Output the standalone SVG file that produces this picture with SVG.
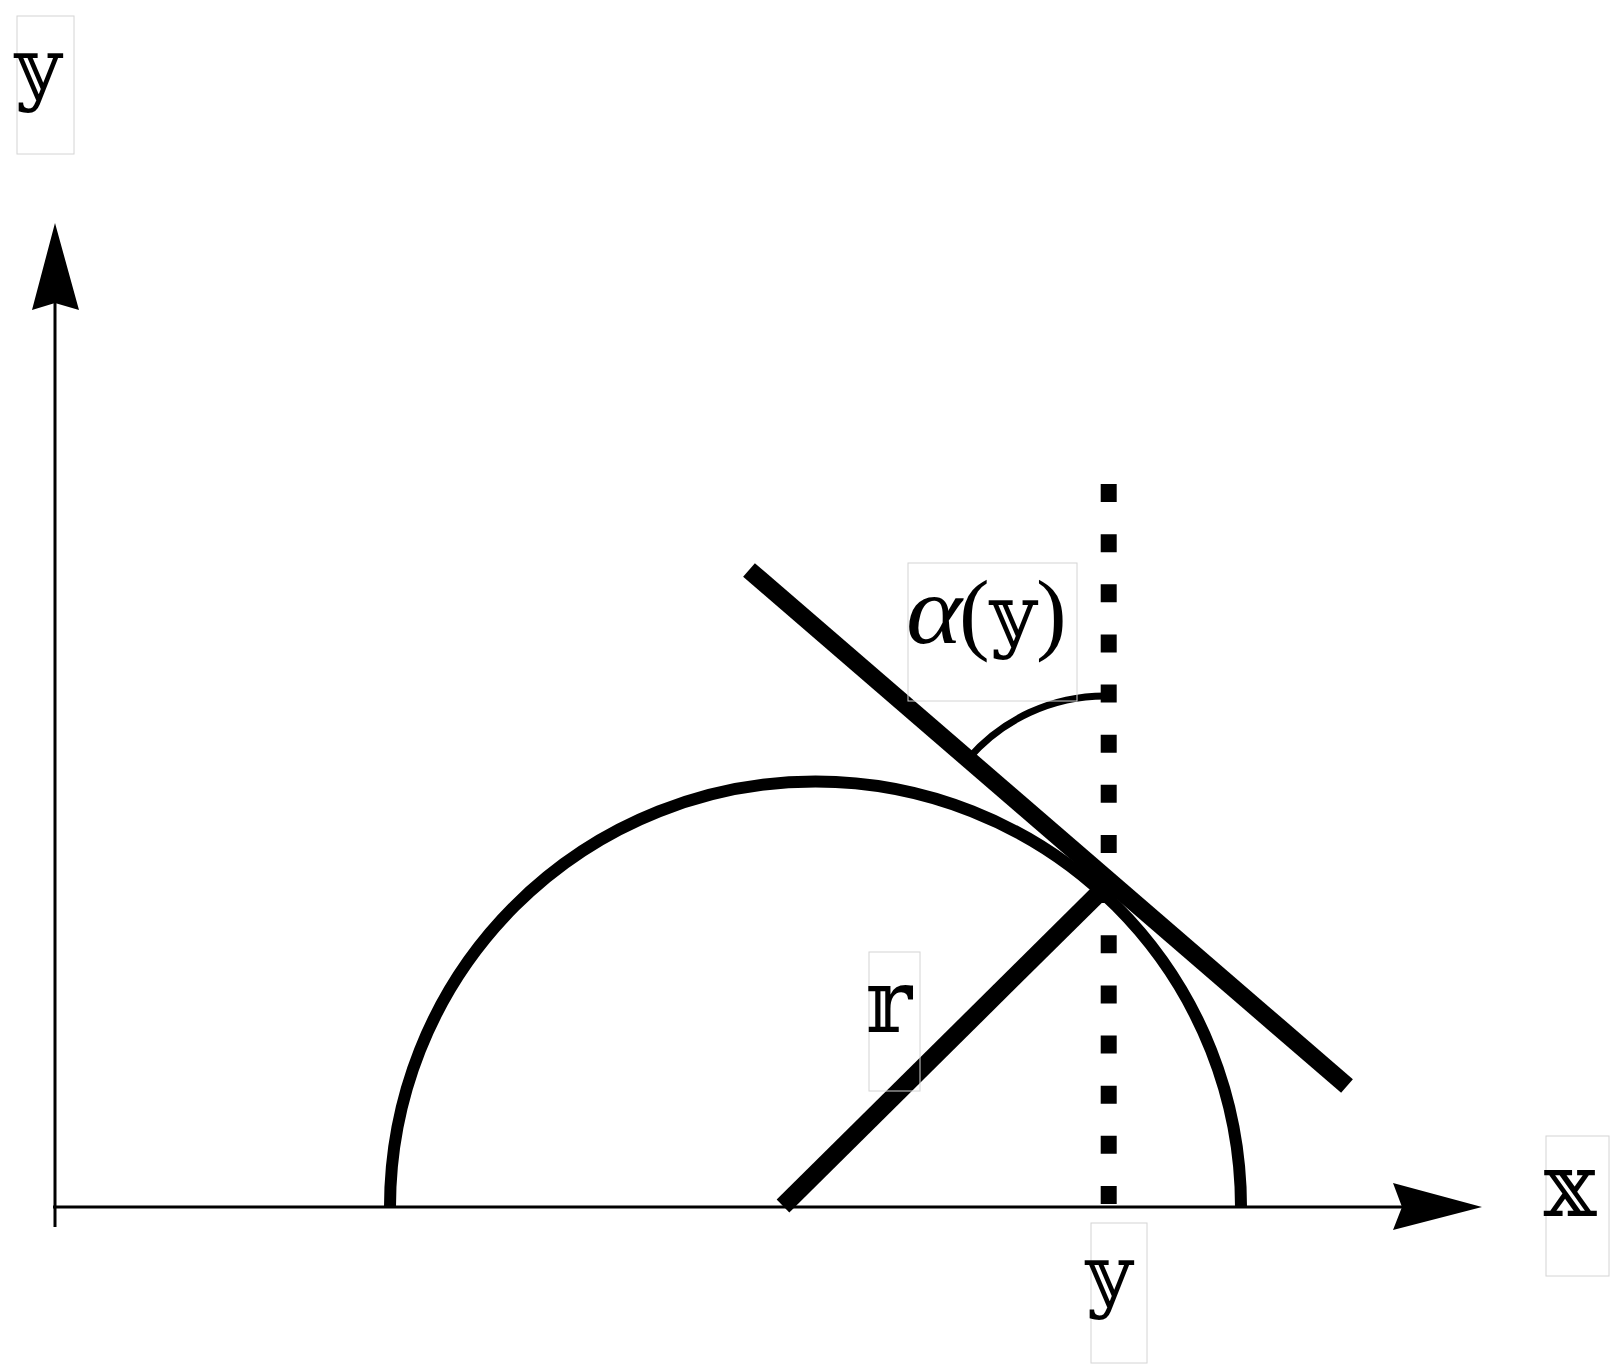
<svg xmlns="http://www.w3.org/2000/svg" width="1621" height="1371" viewBox="0 0 1621 1371">
  <style>
    .box { fill: none; stroke: #d4d4d4; stroke-width: 1; }
    .lbl { font-family: "DejaVu Serif", "DejaVu Sans", serif; font-size: 88px; fill: #000; }
    .ly { font-size: 80px; }
    .greek { font-family: "Liberation Serif", serif; font-style: italic; font-size: 98px; fill: #000; }
    .paren { font-family: "Liberation Serif", serif; font-size: 92px; fill: #000; }
    .axis { stroke: #000; stroke-width: 3; fill: none; }
    .thick { stroke: #000; stroke-width: 18; fill: none; stroke-linecap: butt; }
  </style>
  <rect width="1621" height="1371" fill="#fff"/>
  <g id="connectors">
    <line class="axis" x1="55" y1="1227" x2="55" y2="300"/>
    <polygon points="55,223 79,310 55,303 32,310" fill="#000"/>
    <line class="axis" x1="53" y1="1207" x2="1405" y2="1207"/>
    <polygon points="1482,1207 1393,1230 1402,1207 1393,1183" fill="#000"/>
    <path d="M390,1207 A425.5,425.5 0 0 1 1241,1207" stroke="#000" stroke-width="12" fill="none"/>
    <line x1="1108.7" y1="484" x2="1108.7" y2="1205" stroke="#000" stroke-width="16" stroke-dasharray="18 32.14"/>
    <line class="thick" x1="749" y1="570" x2="1347" y2="1086"/>
    <line class="thick" x1="783" y1="1206" x2="1103" y2="889"/>
    <path d="M968,759 A181,181 0 0 1 1105,696" stroke="#000" stroke-width="7" fill="none"/>
  </g>
  <g id="label-y-axis">
    <rect class="box" x="17" y="16" width="57" height="138"/>
    <text class="lbl ly" x="38" y="95" text-anchor="middle">𝕪</text>
  </g>
  <g id="label-alpha">
    <rect class="box" x="908" y="563" width="169" height="138"/>
    <text class="greek" x="906" y="643" textLength="56" lengthAdjust="spacingAndGlyphs">α</text>
    <text class="paren" x="959" y="643">(</text>
    <text class="lbl ly" x="1013" y="642" text-anchor="middle">𝕪</text>
    <text class="paren" x="1036" y="643">)</text>
  </g>
  <g id="label-r">
    <rect class="box" x="869" y="952" width="51" height="139"/>
    <text class="lbl" x="889" y="1032" text-anchor="middle" font-size="84">𝕣</text>
  </g>
  <g id="label-y-bottom">
    <rect class="box" x="1091" y="1223" width="56" height="140"/>
    <text class="lbl ly" x="1109" y="1302" text-anchor="middle">𝕪</text>
  </g>
  <g id="label-x">
    <rect class="box" x="1546" y="1136" width="63" height="140"/>
    <text class="lbl" x="1570" y="1216" text-anchor="middle">𝕩</text>
  </g>
</svg>
